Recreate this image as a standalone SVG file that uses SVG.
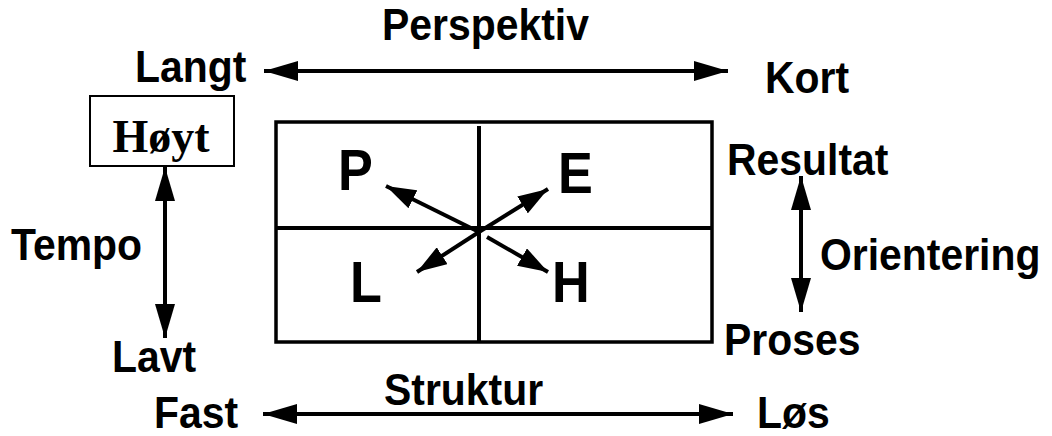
<svg xmlns="http://www.w3.org/2000/svg" width="1052" height="436" viewBox="0 0 1052 436">
<style>
.t{font-family:"Liberation Sans",Arial,sans-serif;font-weight:bold;font-size:44px;fill:#000}
.big{font-size:58px}
.ln{stroke:#000;stroke-width:4;fill:none}
.box{stroke:#000;stroke-width:3.5;fill:#fff}
</style>
<defs>
<marker id="ah" viewBox="0 0 34 20" refX="34" refY="10" markerWidth="34" markerHeight="20" markerUnits="userSpaceOnUse" orient="auto-start-reverse">
<path d="M0,0 L34,10 L0,20 Z" fill="#000"/>
</marker>
<marker id="as" viewBox="0 0 30 20" refX="30" refY="10" markerWidth="30" markerHeight="20" markerUnits="userSpaceOnUse" orient="auto-start-reverse">
<path d="M0,0 L30,10 L0,20 Z" fill="#000"/>
</marker>
</defs>
<rect width="1052" height="436" fill="#fff"/>
<g id="labels">
<text class="t" transform="translate(382,40) scale(0.93,1)">Perspektiv</text>
<text class="t" transform="translate(135,82) scale(0.93,1)">Langt</text>
<text class="t" transform="translate(765,93) scale(0.93,1)">Kort</text>
<text class="t" transform="translate(11,260) scale(0.93,1)">Tempo</text>
<text class="t" transform="translate(112,372) scale(0.93,1)">Lavt</text>
<text class="t" transform="translate(727,175) scale(0.93,1)">Resultat</text>
<text class="t" transform="translate(820,270) scale(0.93,1)">Orientering</text>
<text class="t" transform="translate(724,355) scale(0.93,1)">Proses</text>
<text class="t" transform="translate(384,405) scale(0.93,1)">Struktur</text>
<text class="t" transform="translate(154,428) scale(0.93,1)">Fast</text>
<text class="t" transform="translate(757,428) scale(0.93,1)">Løs</text>
</g>
<g id="hoyt">
<rect x="90" y="96" width="144" height="70" fill="#fff" stroke="#000" stroke-width="2"/>
<text x="161" y="152" text-anchor="middle" style="font-family:'Liberation Serif','Times New Roman',serif;font-weight:bold;font-size:46px">Høyt</text>
</g>
<g id="grid">
<rect class="box" x="276" y="122" width="436" height="220"/>
<line class="ln" x1="479" y1="126" x2="479" y2="342" stroke-width="3"/>
<line class="ln" x1="276" y1="228" x2="712" y2="228" stroke-width="3"/>
<text class="t big" transform="translate(338,190) scale(0.9,1)">P</text>
<text class="t big" transform="translate(558,193) scale(0.9,1)">E</text>
<text class="t big" transform="translate(350,302) scale(0.9,1)">L</text>
<text class="t big" transform="translate(552,302) scale(0.9,1)">H</text>
</g>
<g id="connectors">
<line class="ln" x1="264" y1="71" x2="728" y2="71" marker-start="url(#ah)" marker-end="url(#ah)"/>
<line class="ln" x1="263" y1="414" x2="733" y2="414" marker-start="url(#ah)" marker-end="url(#ah)"/>
<line class="ln" x1="165" y1="167" x2="165" y2="338" marker-start="url(#ah)" marker-end="url(#ah)"/>
<line class="ln" x1="801" y1="176" x2="801" y2="312" marker-start="url(#ah)" marker-end="url(#ah)"/>
<line class="ln" x1="479" y1="232" x2="386" y2="186" stroke-width="3" marker-end="url(#as)"/>
<line class="ln" x1="479" y1="232" x2="548" y2="189" stroke-width="3" marker-end="url(#as)"/>
<line class="ln" x1="479" y1="232" x2="417" y2="272" stroke-width="3" marker-end="url(#as)"/>
<line class="ln" x1="487" y1="237" x2="548" y2="272" stroke-width="3" marker-end="url(#as)"/>
</g>
</svg>
